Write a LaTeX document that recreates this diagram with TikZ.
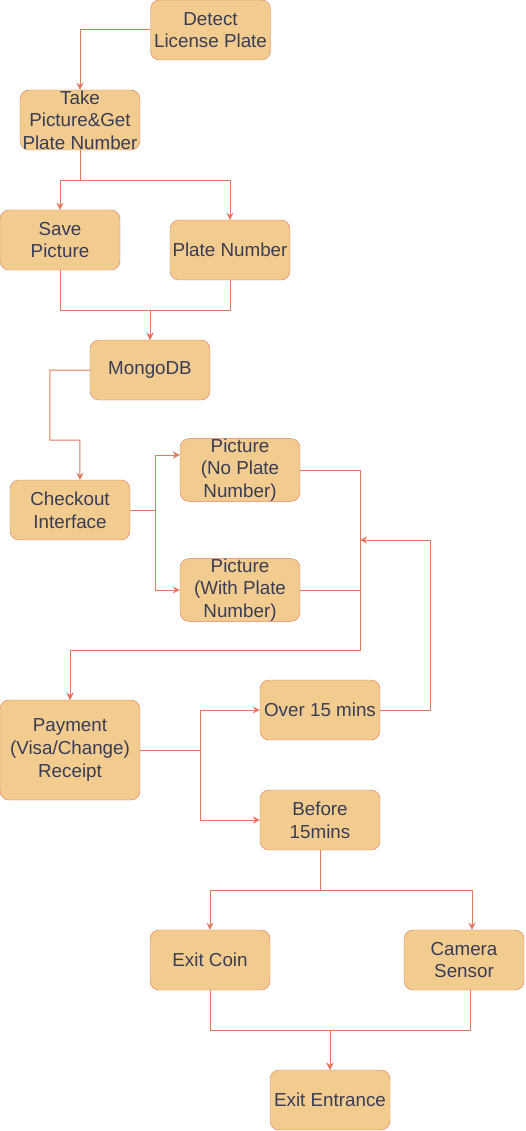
\documentclass[tikz,border=0pt]{standalone}
\usepackage{fontspec}
\setmainfont{Liberation Sans}
\usepackage{xcolor}
\usepackage{tikz}
\usetikzlibrary{
  arrows.meta,
  positioning
}
\definecolor{boxfill}{HTML}{F2CC8F}
\definecolor{boxline}{HTML}{E07A5F}
\definecolor{boxtext}{HTML}{393C56}

\begin{document}
\begin{tikzpicture}[x=1pt, y=-1pt,
  >={Stealth[length=7pt,width=7pt]},
  box/.style={draw=boxline, fill=boxfill, text=boxtext, rounded corners=9pt,
    minimum width=120pt, minimum height=60pt, inner sep=0pt, align=center,
    font=\fontsize{18.8pt}{22.6pt}\selectfont},
  flow/.style={->, draw=boxline, line width=1pt}]
  \useasboundingbox (0,0) rectangle (525,1131);
  \node [box] (detect) at (210.5,30) {Detect\\License Plate};
  \node [box] (take) at (80,120) {Take\\Picture\&Get\\Plate Number};
  \node [box] (save) at (60,240) {Save\\Picture};
  \node [box] (platenum) at (230,250) {Plate Number};
  \node [box] (mongo) at (150,370) {MongoDB};
  \node [box] (checkout) at (70,510) {Checkout\\Interface};
  \node [box] (noplate) at (240,470) {Picture\\(No Plate\\Number)};
  \node [box] (withplate) at (240,590) {Picture\\(With Plate\\Number)};
  \node [box, minimum width=140pt, minimum height=100pt] (payment) at (70,750) {Payment\\(Visa/Change)\\Receipt};
  \node [box] (over) at (320,710) {Over 15 mins};
  \node [box] (before) at (320,820) {Before\\15mins};
  \node [box] (coin) at (210,960) {Exit Coin};
  \node [box] (camera) at (464,960) {Camera\\Sensor};
  \node [box] (exit) at (330,1100) {Exit Entrance};
  \coordinate (loopin) at (360,540);
  \draw [flow] (detect.west) -| (take.north);
  \draw [flow] (take.south) -- ++(0,30) -| (save.north);
  \draw [flow] (take.south) -- ++(0,30) -| (platenum.north);
  \draw [flow] (save.south) -- ++(0,40) -| (mongo.north);
  \draw [flow] (platenum.south) -- ++(0,30) -| (mongo.north);
  \draw [flow] (mongo.west) -- ++(-40,0) -- ++(0,70) -- ++(30,0) -- ([xshift=10pt]checkout.north);
  \draw [flow] (checkout.east) -- ++(25,0) |- ([yshift=15pt]noplate.west);
  \draw [flow] (checkout.east) -- ++(25,0) |- (withplate.west);
  \draw [flow] (noplate.east) -- ++(60,0) -- ++(0,180) -| (payment.north);
  \draw [flow] (withplate.east) -- ++(60,0) -- ++(0,60) -| (payment.north);
  \draw [flow] (over.east) -- ++(50,0) |- (loopin);
  \draw [flow] (payment.east) -- ++(60,0) |- (over.west);
  \draw [flow] (payment.east) -- ++(60,0) |- (before.west);
  \draw [flow] (before.south) -- ++(0,40) -| (coin.north);
  \draw [flow] (before.south) -- ++(0,40) -| ([xshift=8pt]camera.north);
  \draw [flow] (coin.south) -- ++(0,40) -| (exit.north);
  \draw [flow] ([xshift=6pt]camera.south) -- ++(0,40) -| (exit.north);
\end{tikzpicture}
\end{document}
